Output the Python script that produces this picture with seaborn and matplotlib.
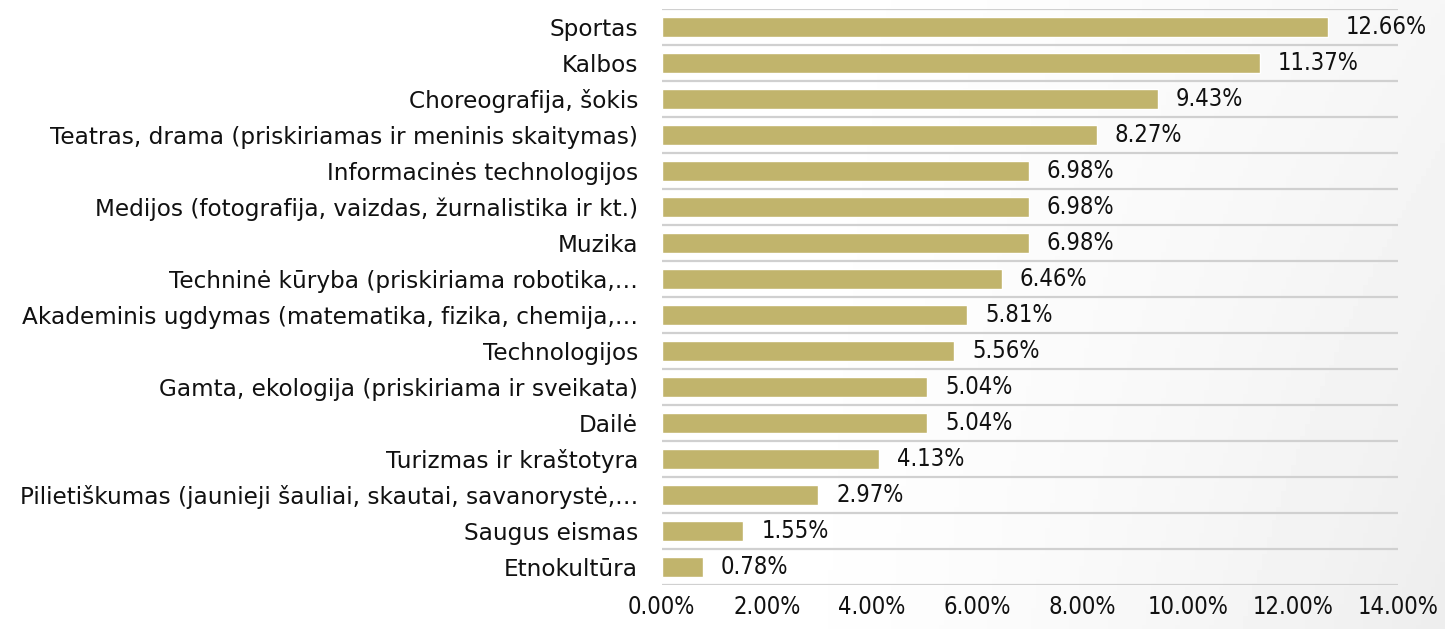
import numpy as np
import pandas as pd
import matplotlib
matplotlib.use("Agg")
import matplotlib.pyplot as plt
import seaborn as sns
from matplotlib.ticker import FixedLocator, FuncFormatter

categories = [
    "Sportas",
    "Kalbos",
    "Choreografija, šokis",
    "Teatras, drama (priskiriamas ir meninis skaitymas)",
    "Informacinės technologijos",
    "Medijos (fotografija, vaizdas, žurnalistika ir kt.)",
    "Muzika",
    "Techninė kūryba (priskiriama robotika,…",
    "Akademinis ugdymas (matematika, fizika, chemija,…",
    "Technologijos",
    "Gamta, ekologija (priskiriama ir sveikata)",
    "Dailė",
    "Turizmas ir kraštotyra",
    "Pilietiškumas (jaunieji šauliai, skautai, savanorystė,…",
    "Saugus eismas",
    "Etnokultūra",
]
values = [12.66, 11.37, 9.43, 8.27, 6.98, 6.98, 6.98, 6.46, 5.81, 5.56,
          5.04, 5.04, 4.13, 2.97, 1.55, 0.78]
x_ticks = [0, 2, 4, 6, 8, 10, 12, 14]

df = pd.DataFrame({"kategorija": categories, "procentai": values})

sns.set_theme(style="white")
plt.rcParams["font.family"] = ["DejaVu Sans"]

fig = plt.figure(figsize=(14.45, 6.29), dpi=100)

# fonas su švelniu pilku gradientu dešinėje
bg = fig.add_axes([0, 0, 1, 1], zorder=-10)
gx = np.linspace(0, 1, 300)
gy = np.linspace(0, 1, 150)
GX, GY = np.meshgrid(gx, gy)
shade = 1 - 0.07 * np.clip((GX - 0.5) / 0.5, 0, 1) ** 1.5 * (0.5 + 0.5 * GY)
bg.imshow(shade, cmap="gray", vmin=0, vmax=1, aspect="auto", extent=[0, 1, 0, 1])
bg.axis("off")

ax = fig.add_axes([0.458, 0.07, 0.9675 - 0.458, 0.9857 - 0.07])
ax.patch.set_alpha(0)

sns.barplot(data=df, y="kategorija", x="procentai", orient="h",
            color="#C1B46C", width=0.56, saturation=1, ax=ax, zorder=3)

ax.set_xlim(0, 14)
ax.set_ylim(len(categories) - 0.5, -0.5)
ax.set_xticks(x_ticks)
ax.xaxis.set_major_formatter(FuncFormatter(lambda v, p: f"{v:.2f}%"))
ax.set_xlabel("")
ax.set_ylabel("")

# horizontalios linijos tarp kategorijų
ax.yaxis.set_minor_locator(FixedLocator(np.arange(-0.5, len(categories), 1.0)))
ax.grid(which="minor", axis="y", color="#D0D0D0", linewidth=1.6, zorder=0)
ax.grid(which="major", axis="both", visible=False)

for s in ax.spines.values():
    s.set_visible(False)

ax.tick_params(axis="y", which="both", length=0, labelsize=16.7, pad=17, colors="#111111")
ax.tick_params(axis="x", length=0, labelsize=17, pad=7, colors="#111111")
for t in ax.get_xticklabels():
    t.set_fontstretch("condensed")

for cont in ax.containers:
    ax.bar_label(cont, labels=[f"{v:.2f}%" for v in values], padding=13,
                 fontsize=17, fontstretch="condensed", color="#111111")

fig.savefig("out.png", dpi=100)
